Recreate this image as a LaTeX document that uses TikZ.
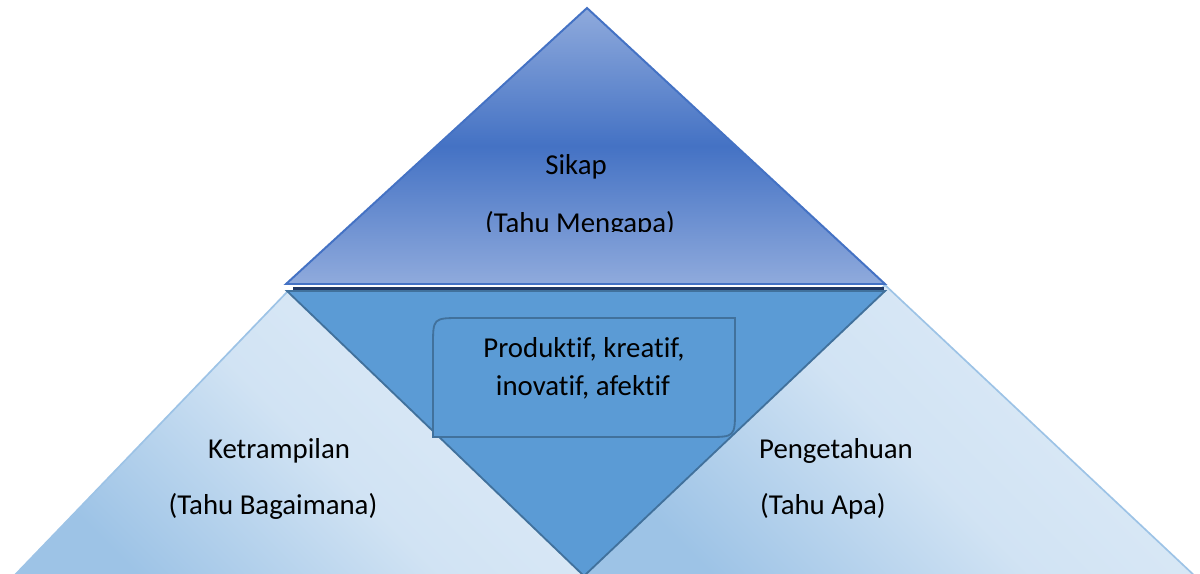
\documentclass[tikz,border=0pt]{standalone}
\usepackage{fontspec}
\setmainfont{Carlito}[Ligatures=NoCommon]

\definecolor{sikapDark}{HTML}{4472C4}
\definecolor{sikapLight}{HTML}{8FAADC}
\definecolor{bandDark}{HTML}{203864}
\definecolor{midBlue}{HTML}{5B9BD5}
\definecolor{midBorder}{HTML}{41719C}
\definecolor{sideLight}{HTML}{DEEBF7}
\definecolor{sideDark}{HTML}{9DC3E6}

\tikzset{>=latex}

\begin{document}
\begin{tikzpicture}[x=0.025cm, y=-0.025cm]
	\tikzstyle{label} = [font=\fontsize{20.5}{27}\selectfont, anchor=base, inner sep=0pt, text=black]
	\tikzstyle{side} = [draw=sideDark, line width=1.2pt, top color=sideLight, bottom color=sideDark, middle color=sideLight!80!sideDark, shading angle=-45]
	\tikzstyle{middle} = [draw=midBorder, line width=1.3pt, fill=midBlue]
	\tikzstyle{top} = [draw=sikapDark, line width=1.4pt, top color=sikapLight, bottom color=sikapLight, middle color=sikapDark]

	\useasboundingbox (0,0) rectangle (1200,573);
	\clip (0,0) rectangle (1200,573);

%----------Ketrampilan & Pengetahuan------------------------------
	\shade[side] (288,291) -- (12,578) -- (590,578) -- cycle;
	\shade[side] (885,285) -- (1197,578) -- (580,578) -- cycle;

%----------Tengah------------------------------------------------
	\draw[middle] (287,291) -- (885,291) -- (584,576) -- cycle;

	\draw[middle] (433,346) .. controls (433,318) .. (461,318) -- (735,318) -- (735,409)
		.. controls (735,437) .. (707,437) -- (433,437) -- cycle;

%----------Sikap-------------------------------------------------
	\draw[bandDark, line width=2.5pt] (293,288.5) -- (884,288.5);
	\shade[top] (587,8) -- (885,284) -- (286,284) -- cycle;

%----------Teks--------------------------------------------------
	\node[label] (sikap) at (576,174) {Sikap};
	\begin{scope}
		\clip (400,150) rectangle (760,231);
		\node[label] (mengapa) at (580,232) {(Tahu Mengapa)};
	\end{scope}

	\node[label] (produktif) at (584,357) {Produktif, kreatif,};
	\node[label] (inovatif) at (583,395) {inovatif, afektif};

	\node[label] (ketrampilan) at (279,458) {Ketrampilan};
	\node[label] (bagaimana) at (273,514) {(Tahu Bagaimana)};

	\node[label] (pengetahuan) at (836,458) {Pengetahuan};
	\node[label] (apa) at (823,514) {(Tahu Apa)};
\end{tikzpicture}
\end{document}
